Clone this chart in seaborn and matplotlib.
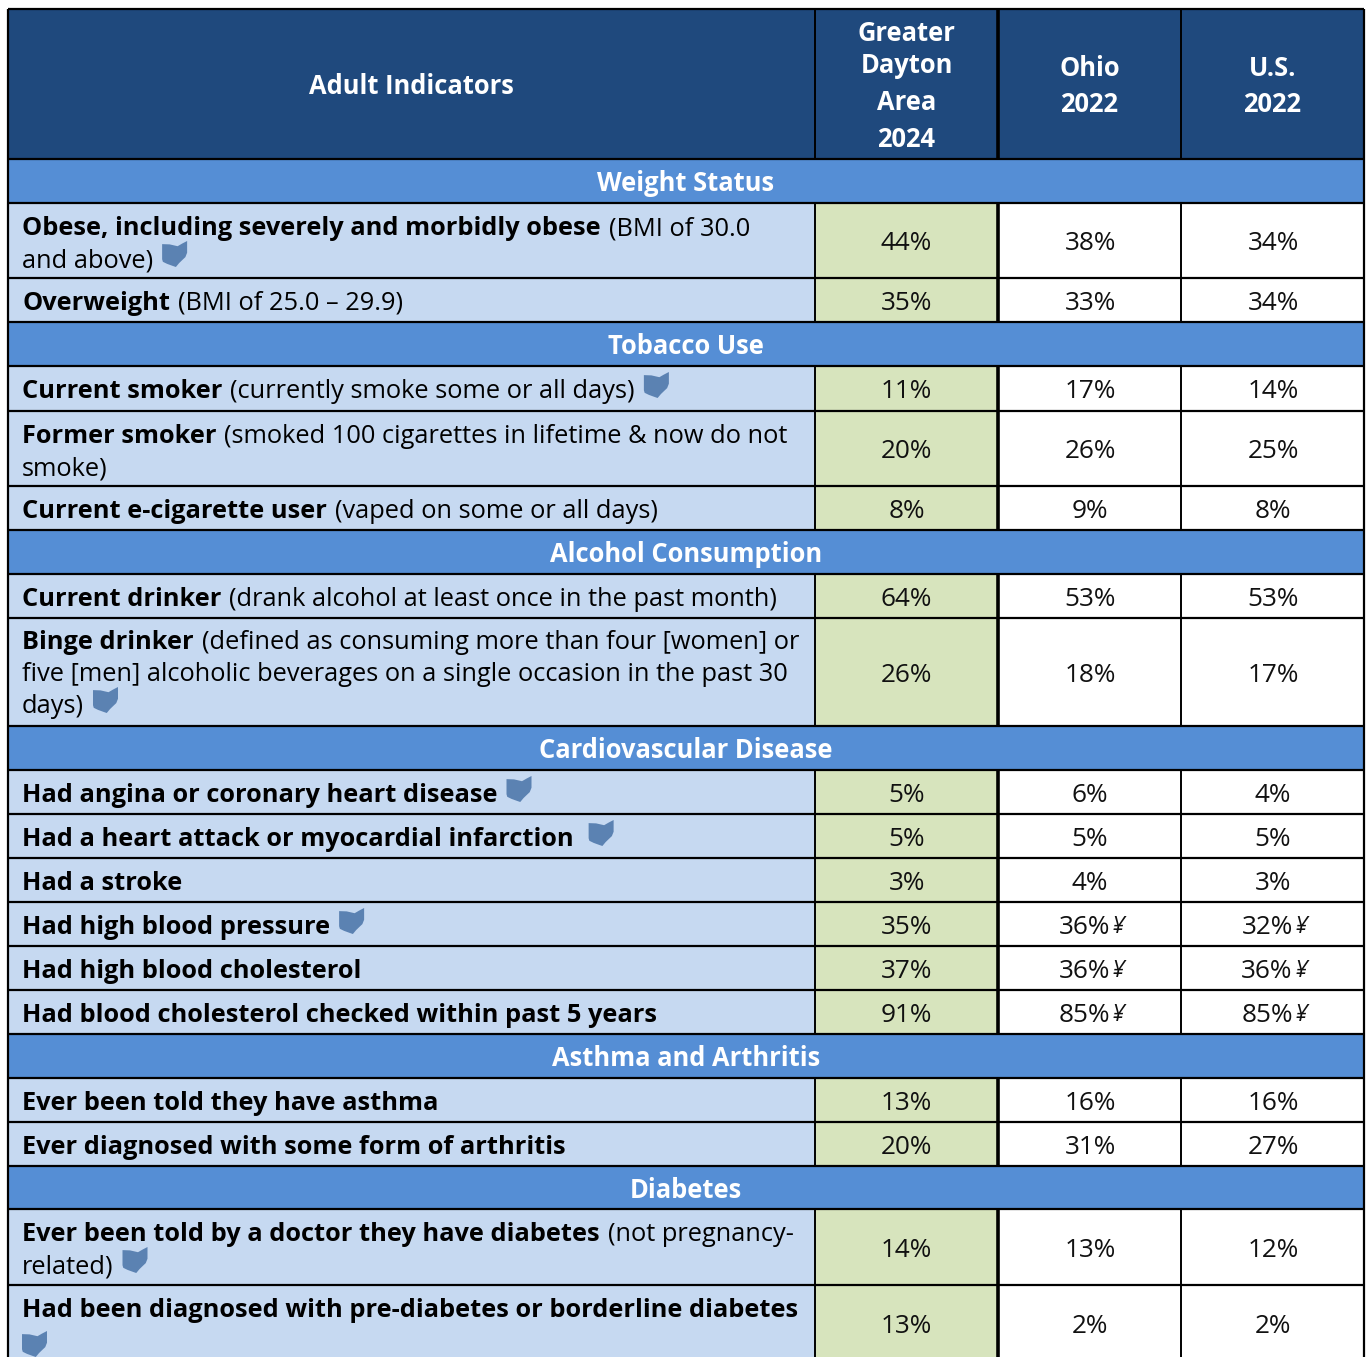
import numpy as np
import pandas as pd
import matplotlib
matplotlib.use('Agg')
import matplotlib.pyplot as plt
from matplotlib.colors import ListedColormap
from matplotlib.patches import Polygon
import seaborn as sns

# ---- table content ----
header_cols = [['Adult Indicators'],
               ['Greater', 'Dayton', 'Area', '2024'],
               ['Ohio', '2022'],
               ['U.S.', '2022']]

sections = ['Weight Status', 'Tobacco Use', 'Alcohol Consumption',
            'Cardiovascular Disease', 'Asthma and Arthritis', 'Diabetes']

# rows of each section: one (bold, regular, has_icon) tuple per text line
weight_labels = [[('Obese, including severely and morbidly obese', ' (BMI of 30.0', False), ('', 'and above)', True)],
                 [('Overweight', ' (BMI of 25.0 – 29.9)', False)]]
tobacco_labels = [[('Current smoker', ' (currently smoke some or all days)', True)],
                  [('Former smoker', ' (smoked 100 cigarettes in lifetime & now do not', False), ('', 'smoke)', False)],
                  [('Current e-cigarette user', ' (vaped on some or all days)', False)]]
alcohol_labels = [[('Current drinker', ' (drank alcohol at least once in the past month)', False)],
                  [('Binge drinker', ' (defined as consuming more than four [women] or', False),
                   ('', 'five [men] alcoholic beverages on a single occasion in the past 30', False),
                   ('', 'days)', True)]]
cardio_labels = [[('Had angina or coronary heart disease', '', True)],
                 [('Had a heart attack or myocardial infarction', '', True)],
                 [('Had a stroke', '', False)],
                 [('Had high blood pressure', '', True)],
                 [('Had high blood cholesterol', '', False)],
                 [('Had blood cholesterol checked within past 5 years', '', False)]]
asthma_labels = [[('Ever been told they have asthma', '', False)],
                 [('Ever diagnosed with some form of arthritis', '', False)]]
diabetes_labels = [[('Ever been told by a doctor they have diabetes', ' (not pregnancy-', False), ('', 'related)', True)],
                   [('Had been diagnosed with pre-diabetes or borderline diabetes', '', False), ('', '', True)]]

weight_vals = [['44%', '38%', '34%'], ['35%', '33%', '34%']]
tobacco_vals = [['11%', '17%', '14%'], ['20%', '26%', '25%'], ['8%', '9%', '8%']]
alcohol_vals = [['64%', '53%', '53%'], ['26%', '18%', '17%']]
cardio_vals = [['5%', '6%', '4%'], ['5%', '5%', '5%'], ['3%', '4%', '3%'],
               ['35%', '36%¥', '32%¥'], ['37%', '36%¥', '36%¥'], ['91%', '85%¥', '85%¥']]
asthma_vals = [['13%', '16%', '16%'], ['20%', '31%', '27%']]
diabetes_vals = [['14%', '13%', '12%'], ['13%', '2%', '2%']]

all_labels = [weight_labels, tobacco_labels, alcohol_labels, cardio_labels, asthma_labels, diabetes_labels]
all_vals = [weight_vals, tobacco_vals, alcohol_vals, cardio_vals, asthma_vals, diabetes_vals]

# ---- layout (pixels) ----
W, H = 1367, 1357
col_widths = [8, 807, 183, 183, 183, 3]
y_edges = [0, 9, 159, 203, 278, 322, 366, 411, 486, 530, 574, 618, 726, 770, 814, 858,
           902, 946, 990, 1034, 1078, 1122, 1166, 1209, 1285, 1361]
icon_gap = {'Had a heart attack or myocardial infarction': 15}
first_line = {1: 32, 2: 32, 3: 31}

NAVY, BLUE, PALE, GREEN, WHITE = '#1F497D', '#558ED5', '#C6D9F1', '#D7E4BD', '#FFFFFF'
palette = [WHITE, NAVY, BLUE, PALE, GREEN]
ICON = '#5B82B2'
FONT = 'Open Sans'
SIZE = 18.25
HEAD_SIZE = 18.4
VAL_SIZE = 18.8

sns.set_theme(style='white')
plt.rcParams['font.family'] = [FONT, 'DejaVu Sans']

# one line of codes per table row, then repeated by row height for the heatmap
codes = [[0, 0, 0, 0, 0, 0], [0, 1, 1, 1, 1, 0]]
section_rows = []
for labels in all_labels:
    section_rows.append(len(codes))
    codes.append([0, 2, 2, 2, 2, 0])
    for lab in labels:
        codes.append([0, 3, 4, 0, 0, 0])

heights = np.diff(y_edges)
grid = np.repeat(np.repeat(np.array(codes), heights, axis=0), col_widths, axis=1)[:H]
df = pd.DataFrame(grid)

fig = plt.figure(figsize=(W / 100, H / 100), dpi=100)
ax = fig.add_axes([0, 0, 1, 1])
sns.heatmap(df, cmap=ListedColormap(palette), vmin=-0.5, vmax=4.5, cbar=False,
            xticklabels=False, yticklabels=False, ax=ax)
ax.set_xlim(0, W)
ax.set_ylim(H, 0)

x_edges = np.cumsum(col_widths)
renderer = fig.canvas.get_renderer()


def put(x, y, s, **kw):
    return ax.text(x, y, s, va='baseline', fontsize=kw.pop('fontsize', SIZE), color=kw.pop('color', '#000000'), **kw)


def put_icon(x, baseline):
    # Ohio outline, drawn in a 25 px box
    shape = np.array([(0, .12), (.3, .13), (.62, .2), (.8, .1), (1, 0), (1, .45), (.93, .62), (.82, .72),
                      (.68, .85), (.55, 1), (.4, .95), (.2, .88), (.03, .8), (0, .7)])
    ax.add_patch(Polygon(shape * [25, 26] + [x, baseline - 26], closed=True, facecolor=ICON, edgecolor='none', zorder=3))


col_centers = [(x_edges[i] + x_edges[i + 1]) / 2 for i in range(4)]

# header text
header_base = {0: [94], 1: [41, 73, 110, 147], 2: [76, 112], 3: [76, 112]}
for c, lines in enumerate(header_cols):
    for line, b in zip(lines, header_base[c]):
        put(col_centers[c], b, line, color='white', fontweight='bold', ha='center', fontsize=HEAD_SIZE)

# body rows
r = 2
mid_x = (x_edges[0] + x_edges[4]) / 2
for sec, labels, vals in zip(sections, all_labels, all_vals):
    put(mid_x, y_edges[r] + 32, sec, color='white', fontweight='bold', ha='center', fontsize=HEAD_SIZE)
    r += 1
    for lab, row in zip(labels, vals):
        y = y_edges[r]
        h = heights[r]
        for n, (bold, reg, icon) in enumerate(lab):
            base = y + first_line[len(lab)] + n * 32
            x = x_edges[0] + 14
            if bold:
                t = put(x, base, bold, fontweight='bold')
                x = t.get_window_extent(renderer).x1
            if reg:
                if reg.startswith(' '):
                    x += 8
                t = put(x, base, reg.strip())
                x = t.get_window_extent(renderer).x1
            if icon:
                if bold or reg:
                    put_icon(x + icon_gap.get(bold, 9), base)
                else:
                    put_icon(x, base + 8)
        for c, v in enumerate(row):
            cx = col_centers[c + 1] + (0.5 if c > 0 else 0)
            base = y + h / 2 + 10
            if v.endswith('¥'):
                t = put(cx - 6, base, v[:-1], ha='center', color='#111111', fontsize=VAL_SIZE)
                put(t.get_window_extent(renderer).x1 + 2, base - 1, '¥', fontsize=17, style='italic', color='#111111')
            else:
                put(cx, base, v, ha='center', color='#111111', fontsize=VAL_SIZE)
        r += 1

# grid lines, the section bands span all columns so no verticals there
ax.hlines(y_edges[1:-1], x_edges[0], x_edges[4], color='black', lw=1.6, zorder=2)
ax.vlines([x_edges[0], x_edges[4]], y_edges[1], H, color='black', lw=1.6, zorder=2)
for i in range(1, len(y_edges) - 1):
    if i in section_rows:
        continue
    ax.vlines([x_edges[1], x_edges[3]], y_edges[i], y_edges[i + 1], color='black', lw=1.4, zorder=2)
    ax.vlines(x_edges[2], y_edges[i], y_edges[i + 1], color='black', lw=2.6, zorder=2)

fig.savefig('out.png', dpi=100)
plt.close()
